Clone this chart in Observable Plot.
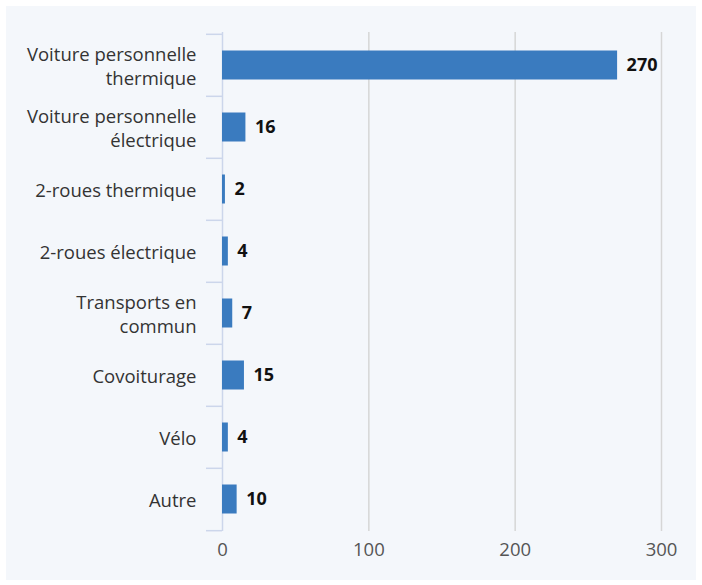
<!DOCTYPE html>
<html>
<head>
<meta charset="utf-8">
<script src="https://cdn.jsdelivr.net/npm/d3@7"></script>
<script src="https://cdn.jsdelivr.net/npm/@observablehq/plot@0.6"></script>
<style>
  html, body { margin: 0; padding: 0; background: #ffffff; }
  #wrap { position: relative; width: 702px; height: 585px; overflow: hidden; }
  #panel { position: absolute; left: 6px; top: 6px; width: 690px; height: 574px; background: #f4f7fb; }
  #chart { position: absolute; left: 0; top: 0; }
</style>
</head>
<body>
<div id="wrap"><div id="panel"></div><div id="chart"></div></div>
<script>
const categories = [
  "Voiture personnelle\nthermique",
  "Voiture personnelle\nélectrique",
  "2-roues thermique",
  "2-roues électrique",
  "Transports en\ncommun",
  "Covoiturage",
  "Vélo",
  "Autre"
];
const values = [270, 16, 2, 4, 7, 15, 4, 10];
const xTicks = [0, 100, 200, 300];

const data = categories.map((c, i) => ({category: c, value: values[i]}));

const W = 702, H = 585;
const mL = 222, mR = 41, mT = 32, mB = 54;
const step = (H - mT - mB) / categories.length;
const font = "'Open Sans', sans-serif";

const chart = Plot.plot({
  width: W,
  height: H,
  marginLeft: mL,
  marginRight: mR,
  marginTop: mT,
  marginBottom: mB,
  style: {background: "transparent", fontFamily: font, overflow: "visible"},
  x: {domain: [0, 300], ticks: xTicks, axis: null},
  y: {domain: categories, padding: 0, axis: null},
  marks: [
    Plot.ruleX(xTicks.filter(d => d > 0), {x: d => d, stroke: "#d6d6d6", strokeWidth: 1.5}),
    Plot.ruleX([0], {stroke: "#ccd6eb", strokeWidth: 1.5}),
    Plot.ruleY(categories, {y: d => d, x1: 0, x2: 0, insetLeft: -16, dy: -step / 2, stroke: "#ccd6eb", strokeWidth: 1.5}),
    Plot.ruleY(categories.slice(-1), {y: d => d, x1: 0, x2: 0, insetLeft: -16, dy: step / 2, stroke: "#ccd6eb", strokeWidth: 1.5}),
    Plot.barX(data, {x: "value", y: "category", fill: "#3a7bbf", insetTop: 16.5, insetBottom: 16.5}),
    Plot.text(data, {x: "value", y: "category", text: d => String(d.value), textAnchor: "start", dx: 9,
      fontWeight: "bold", fontSize: 18, fill: "#111"}),
    Plot.text(data, {x: 0, y: "category", text: "category", textAnchor: "end", dx: -26,
      fontSize: 18.5, fill: "#333", lineHeight: 1.3}),
    Plot.text(xTicks, {x: d => d, frameAnchor: "bottom", text: d => String(d), dy: 24, fontSize: 18.5, fill: "#555"})
  ]
});
document.getElementById("chart").appendChild(chart);
</script>
</body>
</html>
